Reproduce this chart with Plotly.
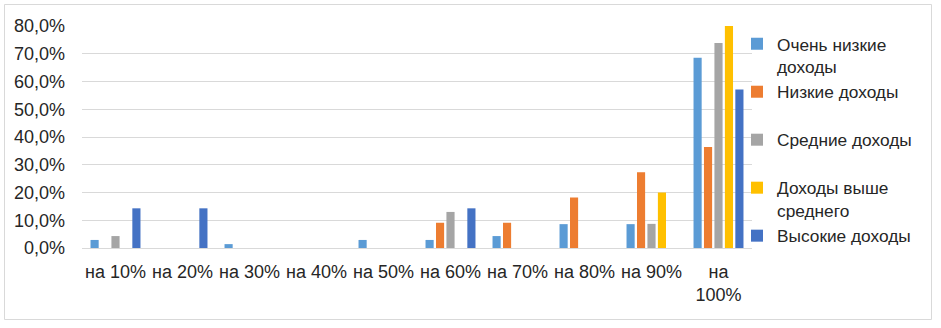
import plotly.graph_objects as go

categories = ["на 10%", "на 20%", "на 30%", "на 40%", "на 50%", "на 60%",
              "на 70%", "на 80%", "на 90%", "на<br>100%"]

series_names = ["Очень низкие<br>доходы", "Низкие доходы<br> ", "Средние доходы<br> ",
                "Доходы выше<br>среднего", "Высокие доходы"]

very_low = [2.9, 0, 1.4, 0, 2.9, 2.9, 4.3, 8.6, 8.6, 68.6]
low = [0, 0, 0, 0, 0, 9.1, 9.1, 18.2, 27.3, 36.4]
middle = [4.3, 0, 0, 0, 0, 13.0, 0, 0, 8.7, 73.9]
above_mid = [0, 0, 0, 0, 0, 0, 0, 0, 20.0, 80.0]
high = [14.3, 14.3, 0, 0, 0, 14.3, 0, 0, 0, 57.1]

colors = ["#5B9BD5", "#ED7D31", "#A5A5A5", "#FFC000", "#4472C4"]

y_ticks = [0, 10, 20, 30, 40, 50, 60, 70, 80]
y_tick_text = ["0,0%", "10,0%", "20,0%", "30,0%", "40,0%", "50,0%", "60,0%", "70,0%", "80,0%"]

fig = go.Figure()
for name, vals, col in zip(series_names, [very_low, low, middle, above_mid, high], colors):
    fig.add_trace(go.Bar(x=categories, y=vals, name=name, marker_color=col,
                         marker_line_width=0))

W, H = 941, 328
ml, mr, mt, mb = 82, 189, 26, 80
pw = W - ml - mr
ph = H - mt - mb

def px2x(p):
    return (p - ml) / pw

def py2y(p):
    return (H - mb - p) / ph

fig.update_layout(
    width=W, height=H,
    margin=dict(l=ml, r=mr, t=mt, b=mb, autoexpand=False),
    paper_bgcolor="white", plot_bgcolor="white",
    barmode="group", bargap=0.22, bargroupgap=0.22,
    font=dict(family="Liberation Sans, Arial, sans-serif", size=18, color="#262626"),
    showlegend=True,
    legend=dict(x=px2x(737), y=1.0, xanchor="left", yanchor="top", valign="top",
                font=dict(size=17.3), tracegroupgap=0, itemwidth=30,
                bgcolor="rgba(0,0,0,0)", maxheight=320),
    xaxis=dict(showgrid=False, showline=True, linecolor="#d9d9d9", linewidth=1,
               ticks="", tickfont=dict(size=18), automargin=False,
               ticklabelstandoff=7),
    yaxis=dict(range=[0, 80], tickvals=y_ticks, ticktext=y_tick_text,
               showgrid=True, gridcolor="#d9d9d9", gridwidth=1, zeroline=False,
               showline=False, ticks="", ticklabelstandoff=16, automargin=False,
               tickfont=dict(size=18)),
)

fig.add_shape(type="rect", xref="paper", yref="paper",
              x0=px2x(4.5), x1=px2x(931.5), y0=py2y(319.5), y1=py2y(4.5),
              line=dict(color="#d9d9d9", width=1), fillcolor="rgba(0,0,0,0)",
              layer="below")

fig.write_html("out.html", config={"displayModeBar": False},
               post_script="document.body.style.margin='0';document.body.style.padding='0';")
